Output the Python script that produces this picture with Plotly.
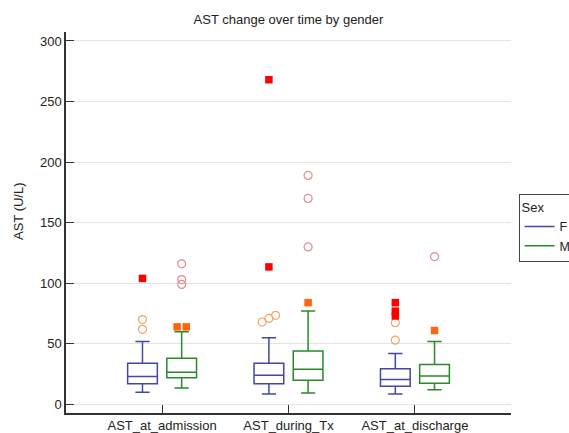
import plotly.graph_objects as go

categories = ["AST_at_admission", "AST_during_Tx", "AST_at_discharge"]
groups = ["F", "M"]

# Box statistics (U/L)
F_q1 = [17, 17, 15]
F_median = [23, 24, 20.5]
F_q3 = [34, 34, 29.5]
F_lower = [10, 8.5, 8.5]
F_upper = [52, 55, 42]

M_q1 = [22, 20, 17.5]
M_median = [26.5, 29, 23.5]
M_q3 = [38, 44, 33]
M_lower = [13.5, 9.5, 12]
M_upper = [60, 77, 52]

# Outliers: circles ("outside") and squares ("far out")
F_circles = [[62, 70], [68, 71, 73.5], [53, 67.5]]
F_squares = [[104], [113.5, 268], [73, 77, 84]]
M_circles = [[99, 103, 116], [130, 170, 189], [122]]
M_squares = [[64, 64], [84], [61]]

box_colors = {"F": "#4646A6", "M": "#2A8A2A"}
circle_colors = {"F": "#F2A468", "M": "#E68C8C"}
square_colors = {"F": "#FF0000", "M": "#FF6410"}

OFFSET = {"F": -0.155, "M": 0.155}
BOXW = 0.235


def spread(values, thr, step):
    """Spread overlapping points horizontally (returns x offsets)."""
    vals = sorted(values)
    offs = [0.0] * len(vals)
    i = 0
    while i < len(vals):
        j = i
        while j + 1 < len(vals) and vals[j + 1] - vals[j] < thr:
            j += 1
        n = j - i + 1
        for k in range(n):
            offs[i + k] = (k - (n - 1) / 2) * step
        i = j + 1
    return vals, offs


fig = go.Figure()

stats = {
    "F": (F_q1, F_median, F_q3, F_lower, F_upper, F_circles, F_squares),
    "M": (M_q1, M_median, M_q3, M_lower, M_upper, M_circles, M_squares),
}

for g in groups:
    q1, med, q3, lo, up, circ, sq = stats[g]
    xs = [i + OFFSET[g] for i in range(len(categories))]
    fig.add_trace(go.Box(
        x=xs, q1=q1, median=med, q3=q3, lowerfence=lo, upperfence=up,
        width=BOXW, whiskerwidth=0.48, boxpoints=False,
        fillcolor="rgba(255,255,255,0)",
        line=dict(color=box_colors[g], width=1.5),
        showlegend=False, hoverinfo="skip",
    ))
    cx, cy, sx, sy = [], [], [], []
    for i in range(len(categories)):
        v, o = spread(circ[i], 4, 0.053)
        cx += [i + OFFSET[g] + d for d in o]
        cy += v
        v, o = spread(sq[i], 0.5, 0.072)
        sx += [i + OFFSET[g] + d for d in o]
        sy += v
    fig.add_trace(go.Scatter(
        x=cx, y=cy, mode="markers", showlegend=False, hoverinfo="skip",
        marker=dict(symbol="circle-open", size=8, color=circle_colors[g],
                    line=dict(width=1.2, color=circle_colors[g])),
    ))
    fig.add_trace(go.Scatter(
        x=sx, y=sy, mode="markers", showlegend=False, hoverinfo="skip",
        marker=dict(symbol="square", size=7.5, color=square_colors[g]),
    ))
    # legend entry (line swatch)
    fig.add_trace(go.Scatter(
        x=[None], y=[None], mode="lines", name=g,
        line=dict(color=box_colors[g], width=1.5),
    ))

font_family = "Liberation Sans, Arial, sans-serif"

fig.update_layout(
    width=569, height=433,
    margin=dict(l=66, r=58, t=32, b=20, autoexpand=False),
    paper_bgcolor="white", plot_bgcolor="white",
    font=dict(family=font_family, size=13, color="#222"),
    title=dict(text="AST change over time by gender", x=0.507, xanchor="center",
               y=0.956, yanchor="middle", font=dict(size=13, color="#222")),
    xaxis=dict(
        range=[-0.76, 2.76], tickmode="array",
        tickvals=list(range(len(categories))), ticktext=categories,
        ticks="inside", ticklen=8, tickcolor="#333", tickwidth=1.3,
        showline=True, linecolor="#333", linewidth=1.5,
        showgrid=False, zeroline=False, fixedrange=True,
        tickfont=dict(size=13, color="#222"),
    ),
    yaxis=dict(
        range=[-7.1, 307.4], tickmode="array",
        tickvals=[0, 50, 100, 150, 200, 250, 300],
        ticks="inside", ticklen=8, tickcolor="#333", tickwidth=1.3,
        showline=True, linecolor="#333", linewidth=1.5,
        showgrid=True, gridcolor="#E3E3E3", gridwidth=1,
        zeroline=False, tickfont=dict(size=13, color="#222"),
    ),
    legend=dict(
        title=dict(text="Sex", font=dict(size=13)),
        x=1.017, y=0.575, xanchor="left", yanchor="top",
        bordercolor="#444", borderwidth=1, bgcolor="white",
        font=dict(size=12.5), tracegroupgap=0,
    ),
    annotations=[dict(
        text="AST (U/L)", textangle=-90, xref="paper", yref="paper",
        x=-0.108, y=0.53, xanchor="center", yanchor="middle",
        showarrow=False, font=dict(size=13, color="#222"),
    )],
)

fig.write_html(
    "out.html",
    config={"displayModeBar": False},
    post_script="document.body.style.margin='0';document.body.style.overflow='hidden';",
)
